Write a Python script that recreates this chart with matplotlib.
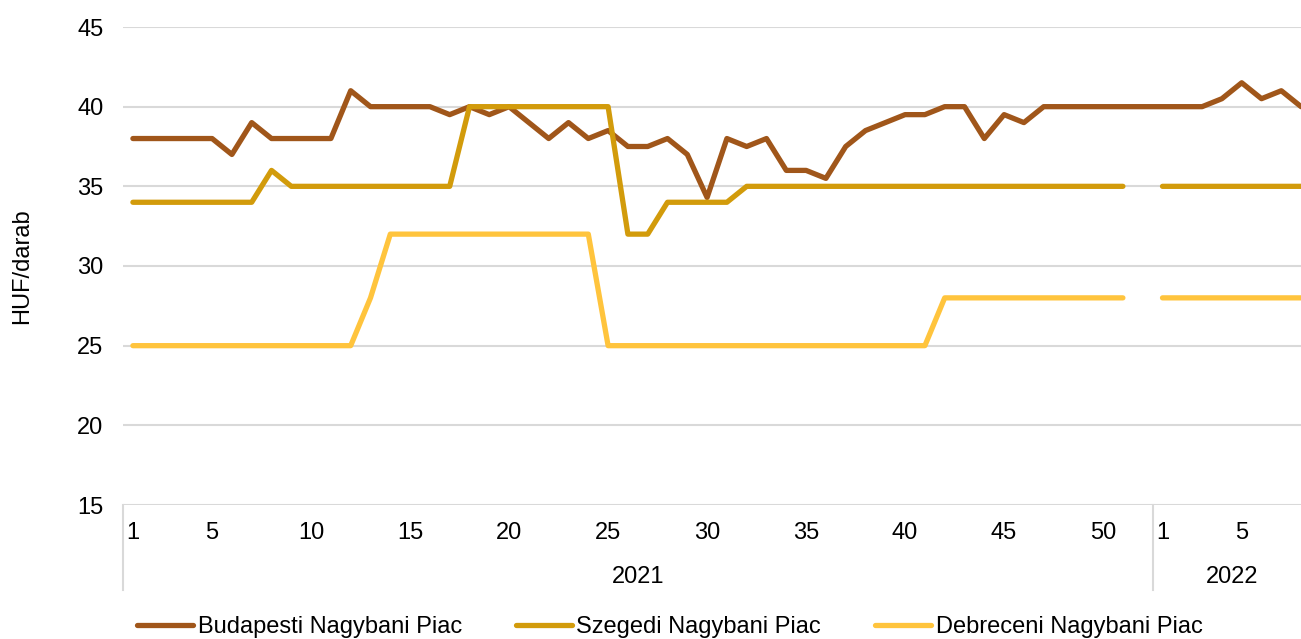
import numpy as np
import matplotlib.pyplot as plt
import matplotlib.transforms as mtransforms

plt.rcParams['font.family'] = ['Liberation Sans', 'DejaVu Sans']

# heti arak (HUF/darab), 2021 1-52. het es 2022 1-8. het
nan = np.nan
budapest_2021 = [38, 38, 38, 38, 38, 37, 39, 38, 38, 38, 38, 41, 40, 40, 40, 40, 39.5, 40,
                 39.5, 40, 39, 38, 39, 38, 38.5, 37.5, 37.5, 38, 37, 34.3, 38, 37.5, 38, 36,
                 36, 35.5, 37.5, 38.5, 39, 39.5, 39.5, 40, 40, 38, 39.5, 39, 40, 40, 40, 40,
                 40, 40]
budapest_2022 = [40, 40, 40, 40.5, 41.5, 40.5, 41, 40]

szeged_2021 = [34, 34, 34, 34, 34, 34, 34, 36, 35, 35, 35, 35, 35, 35, 35, 35, 35, 40, 40,
               40, 40, 40, 40, 40, 40, 32, 32, 34, 34, 34, 34, 35, 35, 35, 35, 35, 35, 35,
               35, 35, 35, 35, 35, 35, 35, 35, 35, 35, 35, 35, 35, nan]
szeged_2022 = [35, 35, 35, 35, 35, 35, 35, 35]

debrecen_2021 = [25, 25, 25, 25, 25, 25, 25, 25, 25, 25, 25, 25, 28, 32, 32, 32, 32, 32, 32,
                 32, 32, 32, 32, 32, 25, 25, 25, 25, 25, 25, 25, 25, 25, 25, 25, 25, 25, 25,
                 25, 25, 25, 28, 28, 28, 28, 28, 28, 28, 28, 28, 28, nan]
debrecen_2022 = [28, 28, 28, 28, 28, 28, 28, 28]

weeks_2021 = list(range(1, 53))
weeks_2022 = list(range(1, 9))
tick_weeks = [1, 5, 10, 15, 20, 25, 30, 35, 40, 45, 50]
years = ['2021', '2022']
series_names = ['Budapesti Nagybani Piac', 'Szegedi Nagybani Piac', 'Debreceni Nagybani Piac']
colors = ['#A0561A', '#D29B0B', '#FFC43D']

budapest = budapest_2021 + budapest_2022
szeged = szeged_2021 + szeged_2022
debrecen = debrecen_2021 + debrecen_2022
x = np.arange(len(weeks_2021) + len(weeks_2022))

fs = 17
fig = plt.figure(figsize=(13.01, 6.39), dpi=100)
ax = fig.add_axes([123 / 1301, 1 - 505 / 639, (1311 - 123) / 1301, (505 - 27) / 639])

for vals, name, c in zip([budapest, szeged, debrecen], series_names, colors):
    ax.plot(x, vals, color=c, lw=3.8, label=name, solid_capstyle='round',
            solid_joinstyle='round')

ax.set_ylim(15, 45)
ax.set_yticks([15, 20, 25, 30, 35, 40, 45])
ax.set_xlim(-0.5, x[-1] + 0.5)
ax.yaxis.grid(True, color='#D9D9D9', lw=1.5)
ax.set_axisbelow(True)
for s in ax.spines.values():
    s.set_visible(False)
ax.tick_params(axis='y', length=0, labelsize=fs, pad=14)

# x tengely: hetek + evek
pos = [weeks_2021.index(w) for w in tick_weeks] + \
      [len(weeks_2021) + weeks_2022.index(w) for w in [1, 5]]
labs = [str(w) for w in tick_weeks] + ['1', '5']
ax.set_xticks(pos)
ax.set_xticklabels(labs)
ax.tick_params(axis='x', length=0, labelsize=fs, pad=12)

trans = mtransforms.blended_transform_factory(ax.transData, ax.transAxes)
bounds = [-0.5, len(weeks_2021) - 0.5, x[-1] + 0.5]
for b in bounds[:2]:
    ax.plot([b, b], [0, -85 / 478], transform=trans, color='#D9D9D9', lw=1.5,
            clip_on=False)
for i, yr in enumerate(years):
    ax.text((bounds[i] + bounds[i + 1]) / 2, -72 / 478, yr, transform=trans,
            ha='center', va='center', fontsize=fs)

ax.set_ylabel('HUF/darab', fontsize=fs)
ax.yaxis.set_label_coords(-90 / 1188, 0.5)

fig.legend(loc='center', bbox_to_anchor=(0.515, 1 - 627 / 639), ncol=3, frameon=False,
           fontsize=fs, handlelength=2.35, handletextpad=0.2, columnspacing=2.3)

fig.savefig('out.png', dpi=100)
